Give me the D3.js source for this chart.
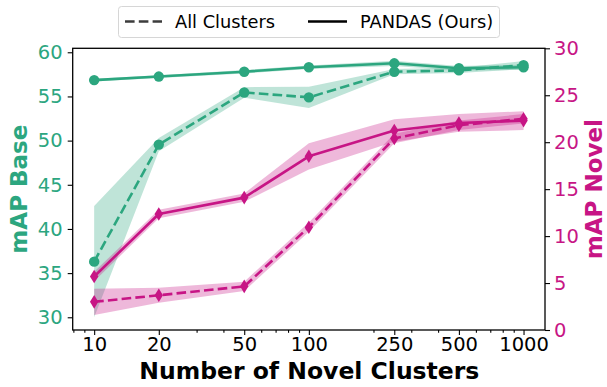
<!DOCTYPE html>
<html><head><meta charset="utf-8">
<script src="https://cdn.jsdelivr.net/npm/d3@7"></script>
<style>
body{margin:0;background:#fff;}
text{font-family:"DejaVu Sans",sans-serif;}
</style></head>
<body><svg id="c" width="607" height="387"></svg>
<script>
// ---- data ----
const clusters = [10, 20, 50, 100, 250, 500, 1000];
const xTickLabels = ["10", "20", "50", "100", "250", "500", "1000"];
const baseTicks = [30, 35, 40, 45, 50, 55, 60];
const novelTicks = [0, 5, 10, 15, 20, 25, 30];

const basePandas     = [56.85, 57.25, 57.8, 58.3, 58.75, 58.2, 58.3];
const basePandasStd  = [0.15, 0.15, 0.2, 0.2, 0.3, 0.25, 0.3];
const baseAll        = [36.3, 49.55, 55.45, 54.9, 57.8, 57.95, 58.55];
const baseAllStd     = [6.3, 0.75, 0.6, 1.2, 0.3, 0.3, 0.45];
const novelPandas    = [5.7, 12.35, 14.1, 18.5, 21.25, 22.05, 22.3];
const novelPandasStd = [0.5, 0.45, 0.45, 1.4, 1.2, 0.95, 1.0];
const novelAll       = [3.0, 3.7, 4.65, 10.95, 20.4, 21.8, 22.5];
const novelAllStd    = [1.4, 0.8, 0.5, 0.5, 0.5, 0.5, 0.5];

const legendLabels = ["All Clusters", "PANDAS (Ours)"];

// ---- layout ----
const green = "#2ca67f", magenta = "#c71585";
const L = 72.7, R = 545, T = 48.3, B = 330;
const svg = d3.select("#c");

const x = d3.scaleLog().domain([Math.pow(10, 0.9), Math.pow(10, 3.1)]).range([L, R]);
const yL = d3.scaleLinear().domain([28.56, 60.45]).range([B, T]);
const yR = d3.scaleLinear().domain([0, 30]).range([B, T]);

function band(vals, std, y, color) {
  const a = d3.area().x((d, i) => x(clusters[i]))
    .y0((d, i) => y(vals[i] - std[i])).y1((d, i) => y(vals[i] + std[i]));
  svg.append("path").attr("d", a(vals)).attr("fill", color).attr("fill-opacity", 0.3).attr("stroke", "none");
}
function line(vals, y, color, dashed) {
  const l = d3.line().x((d, i) => x(clusters[i])).y(d => y(d));
  const p = svg.append("path").attr("d", l(vals)).attr("fill", "none")
    .attr("stroke", color).attr("stroke-width", 2.6).attr("stroke-linejoin", "round");
  if (dashed) p.attr("stroke-dasharray", "9.6,4.2");
}
function circles(vals, y, color) {
  svg.append("g").selectAll("circle").data(vals).join("circle")
    .attr("cx", (d, i) => x(clusters[i])).attr("cy", d => y(d)).attr("r", 5.2).attr("fill", color);
}
function diamonds(vals, y, color) {
  svg.append("g").selectAll("path").data(vals).join("path")
    .attr("d", "M0,-6.8L4.2,0L0,6.8L-4.2,0Z")
    .attr("transform", (d, i) => `translate(${x(clusters[i])},${y(d)})`).attr("fill", color);
}

// base (left axis)
band(baseAll, baseAllStd, yL, green);
line(baseAll, yL, green, true);
circles(baseAll, yL, green);
band(basePandas, basePandasStd, yL, green);
line(basePandas, yL, green, false);
circles(basePandas, yL, green);
// novel (right axis)
band(novelAll, novelAllStd, yR, magenta);
line(novelAll, yR, magenta, true);
diamonds(novelAll, yR, magenta);
band(novelPandas, novelPandasStd, yR, magenta);
line(novelPandas, yR, magenta, false);
diamonds(novelPandas, yR, magenta);

// frame
svg.append("rect").attr("x", L).attr("y", T).attr("width", R - L).attr("height", B - T)
  .attr("fill", "none").attr("stroke", "#000").attr("stroke-width", 1.3);

// axes
const fs = "19.5px";
const gx = svg.append("g").attr("transform", `translate(0,${B})`)
  .call(d3.axisBottom(x).tickValues(clusters).tickFormat((d, i) => xTickLabels[i]).tickSize(5).tickPadding(2));
const minors = [];
for (let e = 0; e <= 3; e++) for (let m = 1; m <= 9; m++) {
  const v = m * Math.pow(10, e);
  if (v >= x.domain()[0] && v <= x.domain()[1] && !clusters.includes(v)) minors.push(v);
}
const gm = svg.append("g").attr("transform", `translate(0,${B})`)
  .call(d3.axisBottom(x).tickValues(minors).tickFormat("").tickSize(2.8));
const gl = svg.append("g").attr("transform", `translate(${L},0)`)
  .call(d3.axisLeft(yL).tickValues(baseTicks).tickSize(5).tickPadding(5));
const gr = svg.append("g").attr("transform", `translate(${R},0)`)
  .call(d3.axisRight(yR).tickValues(novelTicks).tickSize(5).tickPadding(4));
[gx, gm, gl, gr].forEach(g => {
  g.select(".domain").remove();
  g.selectAll(".tick line").attr("stroke", "#000").attr("stroke-width", 1.1);
  g.selectAll("text").style("font-size", fs).style("font-family", "DejaVu Sans");
});
gx.selectAll("text").attr("fill", "#000");
gl.selectAll("text").attr("fill", green);
gr.selectAll("text").attr("fill", magenta);

// axis titles
svg.append("text").attr("transform", `translate(27,${(T + B) / 2}) rotate(-90)`)
  .attr("text-anchor", "middle").attr("fill", green).style("font-size", "23px").style("font-weight", "bold").text("mAP Base");
svg.append("text").attr("transform", `translate(601.5,${(T + B) / 2}) rotate(-90)`)
  .attr("text-anchor", "middle").attr("fill", magenta).style("font-size", "23px").style("font-weight", "bold").text("mAP Novel");
svg.append("text").attr("x", (L + R) / 2 + 0.5).attr("y", 379).attr("text-anchor", "middle")
  .attr("fill", "#000").style("font-size", "23.5px").style("font-weight", "bold").text("Number of Novel Clusters");

// legend
const lg = svg.append("g");
lg.append("rect").attr("x", 118.5).attr("y", 6.5).attr("width", 381).attr("height", 31).attr("rx", 3)
  .attr("fill", "#fff").attr("fill-opacity", 0.8).attr("stroke", "#d6d6d6");
lg.append("line").attr("x1", 125).attr("x2", 162).attr("y1", 21.5).attr("y2", 21.5)
  .attr("stroke", "#3c3c3c").attr("stroke-width", 2.6).attr("stroke-dasharray", "9.6,4.2");
lg.append("text").attr("x", 175).attr("y", 28).style("font-size", "17.8px").attr("fill", "#000").text(legendLabels[0]);
lg.append("line").attr("x1", 308).attr("x2", 347).attr("y1", 21.5).attr("y2", 21.5)
  .attr("stroke", "#000").attr("stroke-width", 2.6);
lg.append("text").attr("x", 360).attr("y", 28).style("font-size", "17.8px").attr("fill", "#000").text(legendLabels[1]);
</script></body></html>
